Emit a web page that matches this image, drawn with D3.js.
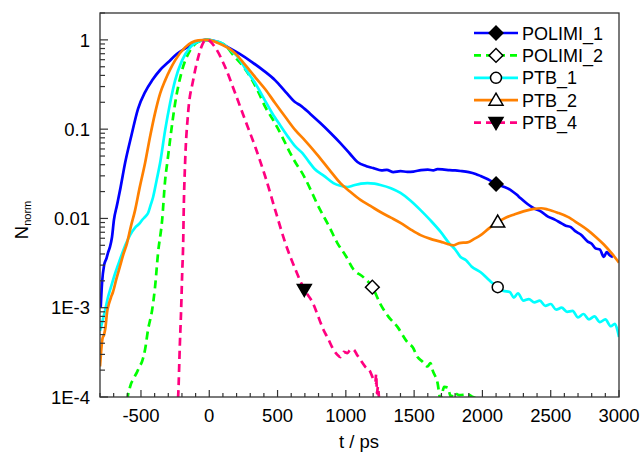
<html>
<script src='https://d3js.org/d3.v7.min.js'></script>
<style>
  body {margin: 0; background: #fff;}
  text {font-family: Arial, 'Liberation Sans', sans-serif; fill: #000;}
</style>
<body>
<svg width=642 height=457></svg>
<script>
// t in ps, N normalised
const polimi1 = [[-795,0.00100],[-785,0.0019],[-770,0.0030],[-752,0.0036],[-740,0.0042],[-727,0.0048],[-712,0.0062],
  [-698,0.0096],[-676,0.0140],[-650,0.022],[-616,0.042],[-570,0.085],[-521,0.170],[-470,0.260],[-418,0.352],[-360,0.46],
  [-301,0.561],[-240,0.69],[-177,0.80],[-100,0.93],[-30,1.0],[40,0.97],[139,0.824],[220,0.70],[315,0.561],[400,0.45],
  [483,0.352],[560,0.26],[630,0.200],[667,0.185],[740,0.148],[813,0.117],[890,0.090],[960,0.0698],[1030,0.053],
  [1085,0.0428],[1150,0.0385],[1202,0.0366],[1260,0.0345],[1300,0.0350],[1348,0.0331],[1400,0.0338],[1450,0.0333],
  [1495,0.0335],[1550,0.0348],[1600,0.0352],[1640,0.0345],[1671,0.0357],[1720,0.0352],[1760,0.0347],[1800,0.0345],
  [1840,0.0340],[1900,0.0330],[1950,0.0315],[1987,0.0299],[2040,0.0275],[2100,0.0243],[2150,0.0228],[2207,0.0208],
  [2250,0.0185],[2280,0.0168],[2330,0.0145],[2376,0.0130],[2427,0.0120],[2480,0.0105],[2530,0.0097],[2574,0.0089],
  [2610,0.0083],[2647,0.0080],[2680,0.0072],[2720,0.0066],[2771,0.0055],[2800,0.0052],[2830,0.0046],[2860,0.0045],
  [2889,0.0037],[2910,0.0042],[2930,0.0039],[2956,0.0037]];

const polimi2 = [[-600,0.00009],[-594,0.000107],[-585,0.00012],[-580,0.00013],[-555,0.00016],[-529,0.00019],[-510,0.00022],
  [-492,0.00025],[-470,0.00034],[-448,0.00057],[-418,0.00095],[-397,0.0017],[-375,0.0041],[-345,0.0096],[-323,0.0269],
  [-305,0.045],[-287,0.0753],[-250,0.195],[-199,0.456],[-140,0.764],[-80,0.95],[-15,1.0],[95,0.914],[190,0.637],
  [250,0.50],[315,0.352],[360,0.26],[411,0.176],[470,0.125],[535,0.0815],[590,0.055],[652,0.0376],[667,0.0348],
  [813,0.0124],[880,0.0080],[938,0.0053],[1000,0.0038],[1055,0.0027],[1128,0.0022],[1194,0.0017],[1253,0.0011],
  [1310,0.00080],[1378,0.00061],[1451,0.00041],[1490,0.00036],[1525,0.00028],[1560,0.00025],[1598,0.00022],
  [1620,0.00024],[1635,0.00020],[1671,0.000145],[1693,0.000095],[1720,0.00013],[1745,0.000128],[1770,0.00010],
  [1789,0.000112],[1830,0.000105],[1891,0.000107],[1930,0.00010],[1965,0.000095]];

const ptb1 = [[-800,0.00055],[-785,0.00068],[-765,0.00090],[-742,0.0013],[-715,0.0018],[-690,0.0024],[-665,0.0031],
  [-639,0.0040],[-610,0.0052],[-580,0.0065],[-540,0.0080],[-510,0.0088],[-492,0.0096],[-470,0.0104],[-448,0.0115],
  [-430,0.014],[-411,0.0174],[-385,0.027],[-360,0.0417],[-323,0.0975],[-287,0.195],[-250,0.352],[-199,0.590],
  [-140,0.824],[-52,0.987],[-15,1.0],[40,0.97],[95,0.914],[150,0.78],[212,0.637],[270,0.46],[337,0.327],[400,0.22],
  [461,0.151],[520,0.11],[578,0.0815],[630,0.064],[682,0.054],[730,0.043],[770,0.036],[840,0.030],[909,0.0249],
  [960,0.0232],[1011,0.0225],[1060,0.0235],[1110,0.0245],[1158,0.0249],[1210,0.0245],[1253,0.0237],[1330,0.0218],
  [1400,0.0193],[1470,0.0160],[1547,0.0124],[1620,0.0095],[1693,0.0071],[1760,0.0052],[1800,0.0045],[1840,0.0037],
  [1880,0.0034],[1920,0.0029],[1987,0.0025],[2040,0.0021],[2070,0.0019],[2112,0.0017],[2150,0.00155],[2200,0.0015],
  [2230,0.0013],[2260,0.00145],[2300,0.0012],[2340,0.00125],[2380,0.00115],[2420,0.0012],[2460,0.00105],[2500,0.0011],
  [2540,0.00095],[2580,0.0010],[2620,0.00090],[2660,0.00092],[2700,0.00078],[2740,0.00085],[2780,0.00074],
  [2820,0.00080],[2860,0.00069],[2900,0.00074],[2940,0.00062],[2970,0.00066],[2990,0.00055],[3000,0.00047]];

const ptb2 = [[-800,0.00022],[-792,0.00032],[-782,0.00045],[-770,0.00050],[-760,0.00060],[-748,0.00090],[-735,0.0011],
  [-720,0.0013],[-705,0.0015],[-680,0.0021],[-654,0.0029],[-628,0.0040],[-602,0.0053],[-575,0.0080],[-543,0.0124],
  [-510,0.022],[-470,0.0417],[-435,0.080],[-397,0.151],[-360,0.25],[-323,0.352],[-285,0.47],[-250,0.590],[-177,0.824],
  [-81,0.987],[-15,1.0],[60,0.93],[190,0.706],[260,0.53],[337,0.381],[410,0.28],[483,0.195],[560,0.135],[630,0.0975],
  [700,0.075],[790,0.052],[880,0.035],[960,0.0249],[1030,0.020],[1107,0.0161],[1180,0.0138],[1253,0.0118],
  [1330,0.0102],[1400,0.0089],[1470,0.0076],[1547,0.0065],[1620,0.0059],[1693,0.0055],[1740,0.0052],[1789,0.0050],
  [1830,0.0053],[1891,0.0054],[1940,0.0059],[1987,0.0065],[2050,0.0078],[2112,0.0091],[2170,0.0102],[2229,0.0110],
  [2300,0.0120],[2376,0.0128],[2430,0.0130],[2478,0.0126],[2550,0.0116],[2625,0.0104],[2700,0.0088],[2771,0.0074],
  [2830,0.0062],[2889,0.0051],[2950,0.0040],[3000,0.0032]];

const ptb4 = [[-240,0.00007],[-228,0.0001],[-215,0.0004],[-206,0.00095],[-198,0.0025],[-191,0.0053],[-187,0.0124],
  [-177,0.0417],[-155,0.151],[-118,0.352],[-81,0.637],[-30,0.987],[-15,1.0],[43,0.824],[117,0.493],[190,0.252],
  [263,0.126],[337,0.063],[411,0.0291],[483,0.0124],[557,0.0053],[630,0.0027],[696,0.0016],[762,0.0011],[800,0.00078],
  [835,0.00057],[870,0.00045],[909,0.00034],[935,0.00030],[960,0.00028],[985,0.00032],[1011,0.00031],[1035,0.00034],
  [1055,0.00034],[1080,0.00030],[1107,0.00026],[1140,0.00022],[1180,0.00019],[1200,0.00016],[1216,0.000145],
  [1222,0.00018],[1228,0.00011],[1235,0.00013],[1245,0.00008]];

const names = ['POLIMI_1', 'POLIMI_2', 'PTB_1', 'PTB_2', 'PTB_4'];
const colors = ['#0000ff', '#00ff00', '#00ffff', '#ff8000', '#ff0080'];
const dashed = [false, true, false, false, true];
const symbols = ['diamondFill', 'diamond', 'circle', 'triangle', 'triangleDownFill'];
const markerAt = [[2100, 0.0243], [1194, 0.0017], [2112, 0.0017], [2112, 0.0091], [696, 0.0016]];
const xTicks = [-500, 0, 500, 1000, 1500, 2000, 2500, 3000];
const yTicks = [1, 0.1, 0.01, 0.001, 0.0001];
const yTickLabels = ['1', '0.1', '0.01', '1E-3', '1E-4'];
const series = [polimi1, polimi2, ptb1, ptb2, ptb4];

const margin = {top: 13, left: 100};
const W = 519, H = 384;
const svg = d3.select('svg');
const g = svg.append('g').attr('transform', 'translate(' + margin.left + ',' + margin.top + ')');

const x = d3.scaleLinear().domain([-800, 3000]).range([0, W]);
const y = d3.scaleLog().domain([1e-4, 2]).range([H, 0]);

g.append('clipPath').attr('id', 'clip').append('rect').attr('width', W).attr('height', H);

const line = d3.line().x(d => x(d[0])).y(d => y(d[1])).curve(d3.curveMonotoneX);

const plot = g.append('g').attr('clip-path', 'url(#clip)');
series.forEach((s, i) => {
  plot.append('path').datum(s)
    .attr('d', line)
    .attr('fill', 'none')
    .attr('stroke', colors[i])
    .attr('stroke-width', 2.7)
    .attr('stroke-dasharray', dashed[i] ? '8,5' : null);
});

function marker(sel, kind) {
  const sq = d3.symbol().type(d3.symbolSquare).size(95)();
  const tri = 'M0,-7L7,5L-7,5Z';
  const triD = 'M0,7L7,-5L-7,-5Z';
  let p;
  if (kind.startsWith('diamond')) p = sel.append('path').attr('d', sq).attr('transform', 'rotate(45)');
  else if (kind === 'circle') p = sel.append('circle').attr('r', 5.5);
  else if (kind === 'triangle') p = sel.append('path').attr('d', tri);
  else p = sel.append('path').attr('d', triD);
  p.attr('fill', kind.endsWith('Fill') ? '#000' : '#fff').attr('stroke', '#000').attr('stroke-width', 1.5);
}

markerAt.forEach((m, i) => {
  const mg = g.append('g').attr('transform', 'translate(' + x(m[0]) + ',' + y(m[1]) + ')');
  marker(mg, symbols[i]);
});

// frame
g.append('rect').attr('width', W).attr('height', H).attr('fill', 'none').attr('stroke', '#333').attr('stroke-width', 1.3);

// x ticks, inward
const xMinor = d3.range(-800, 3001, 100);
g.selectAll('.xt').data(xMinor).enter().append('line')
  .attr('x1', d => x(d)).attr('x2', d => x(d))
  .attr('y1', H).attr('y2', d => H - (d % 500 === 0 ? 7 : 4))
  .attr('stroke', '#333').attr('stroke-width', 1.2);
g.selectAll('.xl').data(xTicks).enter().append('text')
  .attr('x', d => x(d)).attr('y', H + 25)
  .attr('text-anchor', 'middle').attr('font-size', '18.5px')
  .text(d => d);

// y ticks, inward
const yMinor = [];
[1e-4, 1e-3, 1e-2, 1e-1, 1].forEach(dec => { for (let k = 1; k <= 9; k++) if (dec * k <= 2) yMinor.push(dec * k); });
g.selectAll('.yt').data(yMinor).enter().append('line')
  .attr('y1', d => y(d)).attr('y2', d => y(d))
  .attr('x1', 0).attr('x2', (d, i) => (i % 9 === 0 ? 8 : 5))
  .attr('stroke', '#333').attr('stroke-width', 1.2);
g.selectAll('.yl').data(yTicks).enter().append('text')
  .attr('x', -10).attr('y', d => y(d)).attr('dy', '0.36em')
  .attr('text-anchor', 'end').attr('font-size', '18.5px')
  .text((d, i) => yTickLabels[i]);

// axis titles
svg.append('text').attr('x', 359).attr('y', 448).attr('text-anchor', 'middle').attr('font-size', '18.5px').text('t / ps');
const yl = svg.append('text').attr('transform', 'translate(28,220) rotate(-90)').attr('text-anchor', 'middle').attr('font-size', '18.5px');
yl.append('tspan').text('N');
yl.append('tspan').attr('font-size', '11px').attr('dy', '3').text('norm');

// legend
const leg = svg.append('g');
names.forEach((n, i) => {
  const ly = 33 + i * 22.4;
  leg.append('line').attr('x1', 474).attr('x2', 518).attr('y1', ly).attr('y2', ly)
    .attr('stroke', colors[i]).attr('stroke-width', 2.7)
    .attr('stroke-dasharray', dashed[i] ? '7,5' : null);
  const mg = leg.append('g').attr('transform', 'translate(496,' + ly + ')');
  marker(mg, symbols[i]);
  leg.append('text').attr('x', 522).attr('y', ly + 6.5).attr('font-size', '18px').text(n);
});
</script>
</body>
</html>
